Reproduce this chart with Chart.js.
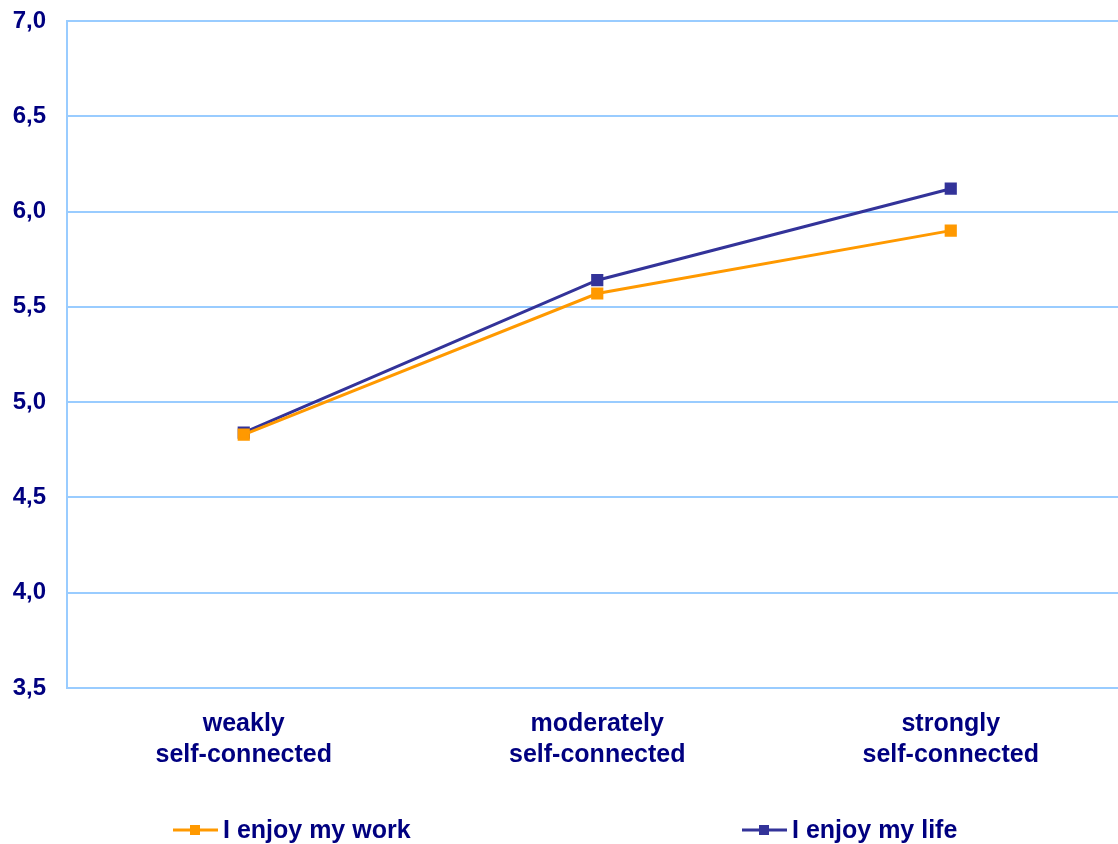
<!DOCTYPE html>
<html>
<head>
<meta charset="utf-8">
<script src="https://cdn.jsdelivr.net/npm/chart.js@4/dist/chart.umd.min.js"></script>
<style>
  html, body { margin: 0; padding: 0; background: #ffffff; overflow: hidden; }
  #wrap { width: 1118px; height: 844px; overflow: hidden; position: relative; }
  #chart { position: absolute; left: 0; top: 0; }
</style>
</head>
<body>
<div id="wrap"><canvas id="chart" width="1137" height="844"></canvas></div>
<script>
// Self-connection groups and mean agreement scores
const categories = [["weakly", "self-connected"], ["moderately", "self-connected"], ["strongly", "self-connected"]];
const enjoyWork = [4.83, 5.57, 5.90];
const enjoyLife = [4.84, 5.64, 6.12];
const seriesNames = ["I enjoy my work", "I enjoy my life"];
const yTicks = [3.5, 4.0, 4.5, 5.0, 5.5, 6.0, 6.5, 7.0];

const NAVY = "#000080";
const ORANGE = "#FF9900";
const BLUE = "#333399";
const GRID = "#99CCFF";
const FONT = "'Liberation Sans', Arial, sans-serif";

// Legend drawn along the bottom: short line with a square marker, then the label
const bottomLegend = {
  id: "bottomLegend",
  afterDraw(chart, args, opts) {
    const ctx = chart.ctx;
    ctx.save();
    chart.data.datasets.forEach((ds, i) => {
      const x0 = opts.starts[i];
      const y = opts.y;
      ctx.strokeStyle = ds.borderColor;
      ctx.lineWidth = 3;
      ctx.beginPath();
      ctx.moveTo(x0, y);
      ctx.lineTo(x0 + 45, y);
      ctx.stroke();
      ctx.fillStyle = ds.borderColor;
      ctx.fillRect(x0 + 22 - 5, y - 5, 10, 10);
      ctx.fillStyle = NAVY;
      ctx.font = "bold 25px " + FONT;
      ctx.textBaseline = "middle";
      ctx.textAlign = "left";
      ctx.fillText(ds.label, x0 + 50, y + 1);
    });
    ctx.restore();
  }
};

new Chart(document.getElementById("chart"), {
  type: "line",
  data: {
    labels: categories,
    datasets: [
      {
        label: seriesNames[0],
        data: enjoyWork,
        borderColor: ORANGE,
        backgroundColor: ORANGE,
        borderWidth: 3,
        pointStyle: "rect",
        pointRadius: 6.5,
        pointHoverRadius: 6.5,
        tension: 0,
        fill: false
      },
      {
        label: seriesNames[1],
        data: enjoyLife,
        borderColor: BLUE,
        backgroundColor: BLUE,
        borderWidth: 3,
        pointStyle: "rect",
        pointRadius: 6.5,
        pointHoverRadius: 6.5,
        tension: 0,
        fill: false
      }
    ]
  },
  options: {
    responsive: false,
    maintainAspectRatio: false,
    animation: false,
    layout: { padding: { top: 21, left: 0, right: 1, bottom: 0 } },
    plugins: {
      legend: { display: false },
      tooltip: { enabled: false },
      bottomLegend: { y: 830, starts: [173, 742] }
    },
    scales: {
      x: {
        offset: true,
        grid: { display: false, drawTicks: false },
        border: { display: false },
        ticks: {
          color: NAVY,
          font: { family: FONT, size: 25, weight: "bold", lineHeight: 1.25 },
          padding: 20,
          maxRotation: 0,
          autoSkip: false
        },
        afterFit(scale) {
          scale.height = 156;
          scale.paddingLeft = 0;
          scale.paddingRight = 0;
        }
      },
      y: {
        min: 3.5,
        max: 7.0,
        afterBuildTicks(scale) { scale.ticks = yTicks.map(v => ({ value: v })); },
        grid: { color: GRID, lineWidth: 2, drawTicks: false },
        border: { display: true, color: GRID, width: 2 },
        ticks: {
          color: NAVY,
          font: { family: FONT, size: 24, weight: "bold" },
          padding: 21,
          callback: v => Number(v).toFixed(1).replace(".", ",")
        },
        afterFit(scale) {
          scale.width = 67;
          scale.paddingTop = 0;
          scale.paddingBottom = 0;
        }
      }
    }
  },
  plugins: [bottomLegend]
});
</script>
</body>
</html>
